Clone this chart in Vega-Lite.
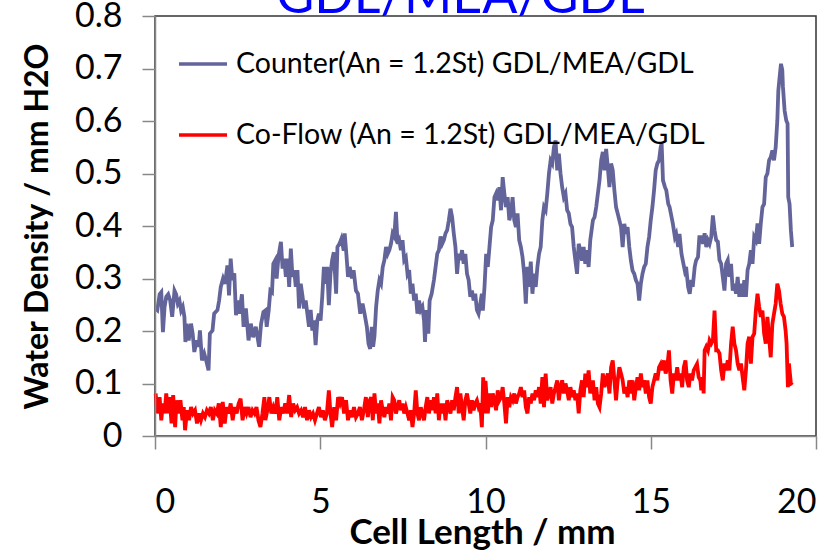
{
"$schema": "https://vega.github.io/schema/vega-lite/v6.json",
"width": 661, "height": 420,
"autosize": {"type": "none"},
"padding": {"left": 155, "top": 16, "right": 23, "bottom": 115},
"background": "white",
"title": {"text": "GDL/MEA/GDL", "color": "#0000FF", "fontSize": 52, "font": "Lato", "fontWeight": "normal", "anchor": "middle", "dx": -25, "offset": -66, "baseline": "alphabetic"},
"config": {"view": {"stroke": "#333333", "strokeWidth": 1.5}, "font": "Lato"},
"datasets": {
"counter": [
{"x":0.02,"y":0.243},{"x":0.07,"y":0.24},{"x":0.14,"y":0.27},{"x":0.19,"y":0.274},{"x":0.24,"y":0.198},{"x":0.29,"y":0.246},{"x":0.34,"y":0.265},{"x":0.4,"y":0.27},{"x":0.46,"y":0.258},{"x":0.52,"y":0.227},{"x":0.59,"y":0.277},{"x":0.64,"y":0.27},{"x":0.69,"y":0.252},{"x":0.74,"y":0.258},{"x":0.79,"y":0.239},{"x":0.84,"y":0.246},{"x":0.89,"y":0.227},{"x":0.92,"y":0.179},{"x":0.96,"y":0.214},{"x":1.02,"y":0.182},{"x":1.09,"y":0.214},{"x":1.14,"y":0.195},{"x":1.19,"y":0.16},{"x":1.26,"y":0.182},{"x":1.32,"y":0.17},{"x":1.36,"y":0.201},{"x":1.42,"y":0.144},{"x":1.49,"y":0.157},{"x":1.56,"y":0.141},{"x":1.62,"y":0.125},{"x":1.66,"y":0.195},{"x":1.74,"y":0.201},{"x":1.79,"y":0.233},{"x":1.89,"y":0.24},{"x":1.94,"y":0.258},{"x":1.99,"y":0.284},{"x":2.06,"y":0.3},{"x":2.12,"y":0.29},{"x":2.19,"y":0.325},{"x":2.24,"y":0.268},{"x":2.29,"y":0.338},{"x":2.34,"y":0.297},{"x":2.4,"y":0.31},{"x":2.45,"y":0.23},{"x":2.5,"y":0.258},{"x":2.55,"y":0.233},{"x":2.63,"y":0.27},{"x":2.68,"y":0.208},{"x":2.75,"y":0.243},{"x":2.83,"y":0.182},{"x":2.9,"y":0.214},{"x":2.97,"y":0.188},{"x":3.05,"y":0.208},{"x":3.15,"y":0.17},{"x":3.21,"y":0.214},{"x":3.28,"y":0.236},{"x":3.34,"y":0.239},{"x":3.38,"y":0.208},{"x":3.44,"y":0.239},{"x":3.49,"y":0.277},{"x":3.54,"y":0.274},{"x":3.58,"y":0.328},{"x":3.64,"y":0.335},{"x":3.68,"y":0.3},{"x":3.74,"y":0.344},{"x":3.81,"y":0.37},{"x":3.86,"y":0.319},{"x":3.91,"y":0.338},{"x":3.96,"y":0.303},{"x":4.01,"y":0.338},{"x":4.06,"y":0.284},{"x":4.11,"y":0.357},{"x":4.16,"y":0.303},{"x":4.21,"y":0.316},{"x":4.26,"y":0.284},{"x":4.31,"y":0.316},{"x":4.36,"y":0.243},{"x":4.41,"y":0.29},{"x":4.46,"y":0.268},{"x":4.51,"y":0.243},{"x":4.56,"y":0.258},{"x":4.61,"y":0.233},{"x":4.66,"y":0.208},{"x":4.71,"y":0.24},{"x":4.76,"y":0.201},{"x":4.81,"y":0.22},{"x":4.86,"y":0.173},{"x":4.91,"y":0.22},{"x":4.96,"y":0.233},{"x":5.01,"y":0.22},{"x":5.06,"y":0.265},{"x":5.11,"y":0.322},{"x":5.16,"y":0.29},{"x":5.21,"y":0.322},{"x":5.26,"y":0.249},{"x":5.31,"y":0.31},{"x":5.36,"y":0.335},{"x":5.41,"y":0.35},{"x":5.48,"y":0.271},{"x":5.52,"y":0.36},{"x":5.58,"y":0.366},{"x":5.64,"y":0.376},{"x":5.71,"y":0.353},{"x":5.74,"y":0.386},{"x":5.79,"y":0.347},{"x":5.84,"y":0.303},{"x":5.89,"y":0.322},{"x":5.96,"y":0.3},{"x":6.01,"y":0.316},{"x":6.08,"y":0.277},{"x":6.14,"y":0.271},{"x":6.21,"y":0.233},{"x":6.28,"y":0.252},{"x":6.34,"y":0.233},{"x":6.41,"y":0.208},{"x":6.46,"y":0.176},{"x":6.51,"y":0.166},{"x":6.56,"y":0.208},{"x":6.6,"y":0.17},{"x":6.64,"y":0.19},{"x":6.69,"y":0.246},{"x":6.74,"y":0.277},{"x":6.79,"y":0.297},{"x":6.84,"y":0.29},{"x":6.89,"y":0.322},{"x":6.94,"y":0.335},{"x":6.99,"y":0.36},{"x":7.04,"y":0.347},{"x":7.09,"y":0.354},{"x":7.14,"y":0.366},{"x":7.19,"y":0.386},{"x":7.24,"y":0.38},{"x":7.29,"y":0.427},{"x":7.34,"y":0.366},{"x":7.39,"y":0.373},{"x":7.44,"y":0.354},{"x":7.49,"y":0.373},{"x":7.54,"y":0.335},{"x":7.59,"y":0.34},{"x":7.64,"y":0.309},{"x":7.69,"y":0.316},{"x":7.74,"y":0.271},{"x":7.79,"y":0.29},{"x":7.84,"y":0.258},{"x":7.89,"y":0.271},{"x":7.94,"y":0.233},{"x":7.99,"y":0.258},{"x":8.04,"y":0.24},{"x":8.09,"y":0.246},{"x":8.14,"y":0.22},{"x":8.17,"y":0.179},{"x":8.21,"y":0.24},{"x":8.27,"y":0.195},{"x":8.31,"y":0.258},{"x":8.37,"y":0.271},{"x":8.44,"y":0.297},{"x":8.49,"y":0.322},{"x":8.54,"y":0.347},{"x":8.59,"y":0.354},{"x":8.64,"y":0.38},{"x":8.69,"y":0.366},{"x":8.74,"y":0.373},{"x":8.79,"y":0.386},{"x":8.84,"y":0.392},{"x":8.89,"y":0.411},{"x":8.94,"y":0.433},{"x":8.99,"y":0.417},{"x":9.04,"y":0.386},{"x":9.09,"y":0.36},{"x":9.14,"y":0.309},{"x":9.19,"y":0.347},{"x":9.24,"y":0.335},{"x":9.29,"y":0.354},{"x":9.34,"y":0.328},{"x":9.39,"y":0.347},{"x":9.44,"y":0.309},{"x":9.49,"y":0.297},{"x":9.54,"y":0.265},{"x":9.59,"y":0.277},{"x":9.64,"y":0.258},{"x":9.69,"y":0.271},{"x":9.74,"y":0.24},{"x":9.79,"y":0.233},{"x":9.84,"y":0.252},{"x":9.89,"y":0.271},{"x":9.92,"y":0.239},{"x":9.97,"y":0.284},{"x":10.02,"y":0.347},{"x":10.07,"y":0.322},{"x":10.12,"y":0.36},{"x":10.17,"y":0.398},{"x":10.22,"y":0.411},{"x":10.27,"y":0.455},{"x":10.32,"y":0.462},{"x":10.37,"y":0.449},{"x":10.42,"y":0.474},{"x":10.47,"y":0.43},{"x":10.52,"y":0.493},{"x":10.57,"y":0.462},{"x":10.62,"y":0.436},{"x":10.67,"y":0.455},{"x":10.72,"y":0.411},{"x":10.77,"y":0.424},{"x":10.82,"y":0.455},{"x":10.87,"y":0.411},{"x":10.92,"y":0.398},{"x":10.97,"y":0.424},{"x":11.02,"y":0.373},{"x":11.07,"y":0.36},{"x":11.12,"y":0.341},{"x":11.17,"y":0.309},{"x":11.22,"y":0.252},{"x":11.27,"y":0.322},{"x":11.32,"y":0.284},{"x":11.37,"y":0.332},{"x":11.42,"y":0.271},{"x":11.47,"y":0.309},{"x":11.52,"y":0.284},{"x":11.57,"y":0.322},{"x":11.62,"y":0.347},{"x":11.67,"y":0.36},{"x":11.72,"y":0.411},{"x":11.77,"y":0.436},{"x":11.82,"y":0.43},{"x":11.87,"y":0.462},{"x":11.92,"y":0.5},{"x":11.97,"y":0.525},{"x":12.02,"y":0.519},{"x":12.07,"y":0.55},{"x":12.12,"y":0.563},{"x":12.17,"y":0.506},{"x":12.22,"y":0.538},{"x":12.27,"y":0.5},{"x":12.32,"y":0.474},{"x":12.37,"y":0.455},{"x":12.42,"y":0.462},{"x":12.47,"y":0.43},{"x":12.52,"y":0.424},{"x":12.57,"y":0.404},{"x":12.62,"y":0.398},{"x":12.67,"y":0.36},{"x":12.72,"y":0.334},{"x":12.77,"y":0.309},{"x":12.82,"y":0.366},{"x":12.87,"y":0.354},{"x":12.92,"y":0.334},{"x":12.97,"y":0.36},{"x":13.02,"y":0.328},{"x":13.07,"y":0.354},{"x":13.12,"y":0.322},{"x":13.17,"y":0.373},{"x":13.25,"y":0.411},{"x":13.3,"y":0.417},{"x":13.35,"y":0.436},{"x":13.4,"y":0.462},{"x":13.45,"y":0.487},{"x":13.5,"y":0.525},{"x":13.55,"y":0.541},{"x":13.6,"y":0.506},{"x":13.65,"y":0.547},{"x":13.7,"y":0.512},{"x":13.75,"y":0.474},{"x":13.8,"y":0.519},{"x":13.85,"y":0.506},{"x":13.9,"y":0.468},{"x":13.95,"y":0.436},{"x":14.0,"y":0.424},{"x":14.05,"y":0.411},{"x":14.1,"y":0.398},{"x":14.15,"y":0.36},{"x":14.2,"y":0.404},{"x":14.25,"y":0.385},{"x":14.3,"y":0.398},{"x":14.35,"y":0.36},{"x":14.4,"y":0.334},{"x":14.45,"y":0.315},{"x":14.5,"y":0.309},{"x":14.55,"y":0.297},{"x":14.6,"y":0.29},{"x":14.65,"y":0.258},{"x":14.7,"y":0.29},{"x":14.75,"y":0.309},{"x":14.8,"y":0.322},{"x":14.85,"y":0.328},{"x":14.9,"y":0.36},{"x":14.95,"y":0.379},{"x":15.0,"y":0.411},{"x":15.05,"y":0.436},{"x":15.1,"y":0.468},{"x":15.15,"y":0.506},{"x":15.2,"y":0.519},{"x":15.25,"y":0.525},{"x":15.3,"y":0.55},{"x":15.33,"y":0.557},{"x":15.37,"y":0.487},{"x":15.43,"y":0.474},{"x":15.47,"y":0.468},{"x":15.53,"y":0.442},{"x":15.57,"y":0.436},{"x":15.63,"y":0.417},{"x":15.67,"y":0.404},{"x":15.73,"y":0.379},{"x":15.77,"y":0.385},{"x":15.83,"y":0.36},{"x":15.87,"y":0.385},{"x":15.93,"y":0.347},{"x":15.97,"y":0.334},{"x":16.03,"y":0.315},{"x":16.07,"y":0.322},{"x":16.13,"y":0.284},{"x":16.18,"y":0.271},{"x":16.23,"y":0.297},{"x":16.27,"y":0.284},{"x":16.33,"y":0.322},{"x":16.37,"y":0.334},{"x":16.43,"y":0.341},{"x":16.47,"y":0.379},{"x":16.53,"y":0.379},{"x":16.58,"y":0.366},{"x":16.63,"y":0.386},{"x":16.68,"y":0.36},{"x":16.73,"y":0.373},{"x":16.78,"y":0.366},{"x":16.83,"y":0.379},{"x":16.88,"y":0.42},{"x":16.93,"y":0.392},{"x":16.98,"y":0.373},{"x":17.03,"y":0.37},{"x":17.08,"y":0.335},{"x":17.13,"y":0.328},{"x":17.18,"y":0.303},{"x":17.23,"y":0.277},{"x":17.28,"y":0.328},{"x":17.33,"y":0.335},{"x":17.38,"y":0.303},{"x":17.43,"y":0.328},{"x":17.48,"y":0.277},{"x":17.53,"y":0.29},{"x":17.58,"y":0.271},{"x":17.63,"y":0.303},{"x":17.68,"y":0.265},{"x":17.73,"y":0.29},{"x":17.78,"y":0.265},{"x":17.83,"y":0.297},{"x":17.88,"y":0.265},{"x":17.93,"y":0.316},{"x":17.98,"y":0.328},{"x":18.03,"y":0.354},{"x":18.08,"y":0.328},{"x":18.13,"y":0.379},{"x":18.18,"y":0.373},{"x":18.23,"y":0.405},{"x":18.28,"y":0.366},{"x":18.33,"y":0.405},{"x":18.38,"y":0.436},{"x":18.43,"y":0.442},{"x":18.48,"y":0.493},{"x":18.53,"y":0.5},{"x":18.58,"y":0.525},{"x":18.63,"y":0.531},{"x":18.68,"y":0.544},{"x":18.73,"y":0.525},{"x":18.78,"y":0.55},{"x":18.83,"y":0.601},{"x":18.86,"y":0.658},{"x":18.9,"y":0.684},{"x":18.94,"y":0.709},{"x":18.98,"y":0.697},{"x":19.0,"y":0.665},{"x":19.05,"y":0.62},{"x":19.1,"y":0.601},{"x":19.14,"y":0.595},{"x":19.16,"y":0.455},{"x":19.2,"y":0.442},{"x":19.24,"y":0.392},{"x":19.28,"y":0.36}
],
"coflow": [
{"x":0.02,"y":0.081},{"x":0.07,"y":0.043},{"x":0.14,"y":0.074},{"x":0.19,"y":0.03},{"x":0.24,"y":0.062},{"x":0.29,"y":0.043},{"x":0.34,"y":0.081},{"x":0.4,"y":0.043},{"x":0.44,"y":0.074},{"x":0.5,"y":0.024},{"x":0.55,"y":0.078},{"x":0.61,"y":0.017},{"x":0.65,"y":0.068},{"x":0.71,"y":0.043},{"x":0.77,"y":0.068},{"x":0.83,"y":0.03},{"x":0.87,"y":0.055},{"x":0.91,"y":0.011},{"x":0.97,"y":0.049},{"x":1.03,"y":0.03},{"x":1.09,"y":0.055},{"x":1.15,"y":0.043},{"x":1.21,"y":0.049},{"x":1.27,"y":0.024},{"x":1.33,"y":0.043},{"x":1.39,"y":0.03},{"x":1.45,"y":0.043},{"x":1.51,"y":0.036},{"x":1.57,"y":0.049},{"x":1.63,"y":0.043},{"x":1.69,"y":0.055},{"x":1.75,"y":0.03},{"x":1.81,"y":0.049},{"x":1.87,"y":0.043},{"x":1.93,"y":0.062},{"x":1.99,"y":0.017},{"x":2.05,"y":0.065},{"x":2.11,"y":0.024},{"x":2.17,"y":0.055},{"x":2.23,"y":0.043},{"x":2.29,"y":0.062},{"x":2.35,"y":0.03},{"x":2.41,"y":0.055},{"x":2.47,"y":0.043},{"x":2.53,"y":0.062},{"x":2.59,"y":0.071},{"x":2.65,"y":0.03},{"x":2.71,"y":0.055},{"x":2.77,"y":0.043},{"x":2.83,"y":0.055},{"x":2.89,"y":0.036},{"x":2.95,"y":0.049},{"x":3.01,"y":0.043},{"x":3.07,"y":0.055},{"x":3.13,"y":0.03},{"x":3.19,"y":0.017},{"x":3.25,"y":0.043},{"x":3.31,"y":0.074},{"x":3.34,"y":0.03},{"x":3.4,"y":0.049},{"x":3.46,"y":0.074},{"x":3.52,"y":0.043},{"x":3.58,"y":0.055},{"x":3.64,"y":0.043},{"x":3.7,"y":0.074},{"x":3.76,"y":0.03},{"x":3.82,"y":0.055},{"x":3.88,"y":0.043},{"x":3.94,"y":0.062},{"x":4.0,"y":0.043},{"x":4.06,"y":0.078},{"x":4.12,"y":0.036},{"x":4.18,"y":0.062},{"x":4.24,"y":0.049},{"x":4.3,"y":0.055},{"x":4.36,"y":0.043},{"x":4.42,"y":0.049},{"x":4.48,"y":0.036},{"x":4.54,"y":0.055},{"x":4.6,"y":0.03},{"x":4.66,"y":0.049},{"x":4.72,"y":0.036},{"x":4.78,"y":0.043},{"x":4.84,"y":0.03},{"x":4.9,"y":0.043},{"x":4.96,"y":0.055},{"x":5.02,"y":0.036},{"x":5.08,"y":0.049},{"x":5.14,"y":0.03},{"x":5.2,"y":0.043},{"x":5.26,"y":0.087},{"x":5.31,"y":0.043},{"x":5.36,"y":0.017},{"x":5.42,"y":0.055},{"x":5.48,"y":0.03},{"x":5.54,"y":0.074},{"x":5.6,"y":0.062},{"x":5.66,"y":0.074},{"x":5.72,"y":0.043},{"x":5.78,"y":0.068},{"x":5.84,"y":0.03},{"x":5.9,"y":0.049},{"x":5.96,"y":0.036},{"x":6.02,"y":0.055},{"x":6.08,"y":0.036},{"x":6.14,"y":0.043},{"x":6.2,"y":0.055},{"x":6.26,"y":0.03},{"x":6.32,"y":0.049},{"x":6.38,"y":0.074},{"x":6.44,"y":0.036},{"x":6.5,"y":0.068},{"x":6.54,"y":0.074},{"x":6.59,"y":0.03},{"x":6.64,"y":0.081},{"x":6.69,"y":0.043},{"x":6.74,"y":0.062},{"x":6.79,"y":0.024},{"x":6.84,"y":0.068},{"x":6.89,"y":0.049},{"x":6.94,"y":0.036},{"x":6.99,"y":0.055},{"x":7.04,"y":0.043},{"x":7.09,"y":0.062},{"x":7.14,"y":0.03},{"x":7.19,"y":0.074},{"x":7.24,"y":0.068},{"x":7.29,"y":0.043},{"x":7.34,"y":0.055},{"x":7.39,"y":0.068},{"x":7.44,"y":0.049},{"x":7.49,"y":0.062},{"x":7.54,"y":0.043},{"x":7.59,"y":0.055},{"x":7.64,"y":0.043},{"x":7.69,"y":0.03},{"x":7.74,"y":0.049},{"x":7.79,"y":0.017},{"x":7.84,"y":0.043},{"x":7.89,"y":0.087},{"x":7.94,"y":0.043},{"x":7.99,"y":0.03},{"x":8.04,"y":0.055},{"x":8.09,"y":0.043},{"x":8.14,"y":0.03},{"x":8.19,"y":0.055},{"x":8.24,"y":0.074},{"x":8.29,"y":0.043},{"x":8.34,"y":0.068},{"x":8.39,"y":0.049},{"x":8.44,"y":0.074},{"x":8.49,"y":0.043},{"x":8.54,"y":0.081},{"x":8.59,"y":0.03},{"x":8.64,"y":0.062},{"x":8.69,"y":0.043},{"x":8.74,"y":0.062},{"x":8.79,"y":0.03},{"x":8.84,"y":0.068},{"x":8.89,"y":0.055},{"x":8.94,"y":0.043},{"x":8.99,"y":0.068},{"x":9.04,"y":0.049},{"x":9.09,"y":0.074},{"x":9.14,"y":0.093},{"x":9.19,"y":0.043},{"x":9.24,"y":0.081},{"x":9.29,"y":0.055},{"x":9.34,"y":0.03},{"x":9.39,"y":0.068},{"x":9.44,"y":0.081},{"x":9.49,"y":0.062},{"x":9.54,"y":0.043},{"x":9.59,"y":0.068},{"x":9.64,"y":0.049},{"x":9.69,"y":0.062},{"x":9.74,"y":0.068},{"x":9.79,"y":0.055},{"x":9.84,"y":0.062},{"x":9.89,"y":0.017},{"x":9.93,"y":0.112},{"x":9.97,"y":0.043},{"x":10.0,"y":0.105},{"x":10.04,"y":0.068},{"x":10.07,"y":0.043},{"x":10.12,"y":0.081},{"x":10.17,"y":0.055},{"x":10.22,"y":0.081},{"x":10.27,"y":0.068},{"x":10.32,"y":0.049},{"x":10.37,"y":0.087},{"x":10.42,"y":0.068},{"x":10.47,"y":0.074},{"x":10.52,"y":0.093},{"x":10.57,"y":0.062},{"x":10.62,"y":0.024},{"x":10.67,"y":0.074},{"x":10.72,"y":0.055},{"x":10.77,"y":0.074},{"x":10.82,"y":0.068},{"x":10.87,"y":0.081},{"x":10.92,"y":0.062},{"x":10.97,"y":0.074},{"x":11.02,"y":0.081},{"x":11.07,"y":0.093},{"x":11.12,"y":0.074},{"x":11.17,"y":0.087},{"x":11.22,"y":0.055},{"x":11.27,"y":0.043},{"x":11.32,"y":0.074},{"x":11.37,"y":0.062},{"x":11.42,"y":0.081},{"x":11.47,"y":0.068},{"x":11.52,"y":0.087},{"x":11.57,"y":0.074},{"x":11.62,"y":0.093},{"x":11.67,"y":0.062},{"x":11.72,"y":0.112},{"x":11.77,"y":0.055},{"x":11.82,"y":0.119},{"x":11.87,"y":0.068},{"x":11.92,"y":0.081},{"x":11.97,"y":0.093},{"x":12.02,"y":0.062},{"x":12.07,"y":0.081},{"x":12.12,"y":0.093},{"x":12.17,"y":0.106},{"x":12.22,"y":0.068},{"x":12.27,"y":0.093},{"x":12.32,"y":0.106},{"x":12.37,"y":0.081},{"x":12.42,"y":0.1},{"x":12.47,"y":0.087},{"x":12.52,"y":0.068},{"x":12.57,"y":0.093},{"x":12.62,"y":0.074},{"x":12.67,"y":0.087},{"x":12.72,"y":0.068},{"x":12.77,"y":0.081},{"x":12.82,"y":0.043},{"x":12.87,"y":0.087},{"x":12.92,"y":0.106},{"x":12.97,"y":0.074},{"x":13.02,"y":0.119},{"x":13.07,"y":0.093},{"x":13.12,"y":0.125},{"x":13.17,"y":0.081},{"x":13.2,"y":0.093},{"x":13.25,"y":0.106},{"x":13.3,"y":0.068},{"x":13.35,"y":0.093},{"x":13.4,"y":0.062},{"x":13.45,"y":0.055},{"x":13.5,"y":0.081},{"x":13.55,"y":0.119},{"x":13.6,"y":0.093},{"x":13.65,"y":0.106},{"x":13.7,"y":0.119},{"x":13.75,"y":0.081},{"x":13.8,"y":0.131},{"x":13.85,"y":0.144},{"x":13.9,"y":0.106},{"x":13.95,"y":0.068},{"x":14.0,"y":0.106},{"x":14.05,"y":0.131},{"x":14.1,"y":0.119},{"x":14.15,"y":0.106},{"x":14.2,"y":0.081},{"x":14.25,"y":0.093},{"x":14.3,"y":0.074},{"x":14.35,"y":0.106},{"x":14.4,"y":0.081},{"x":14.45,"y":0.106},{"x":14.5,"y":0.068},{"x":14.55,"y":0.093},{"x":14.6,"y":0.112},{"x":14.65,"y":0.087},{"x":14.7,"y":0.119},{"x":14.75,"y":0.093},{"x":14.8,"y":0.106},{"x":14.85,"y":0.081},{"x":14.9,"y":0.106},{"x":14.95,"y":0.074},{"x":15.0,"y":0.062},{"x":15.05,"y":0.093},{"x":15.1,"y":0.106},{"x":15.15,"y":0.119},{"x":15.2,"y":0.106},{"x":15.25,"y":0.131},{"x":15.3,"y":0.137},{"x":15.35,"y":0.125},{"x":15.4,"y":0.144},{"x":15.45,"y":0.119},{"x":15.5,"y":0.131},{"x":15.55,"y":0.163},{"x":15.6,"y":0.106},{"x":15.65,"y":0.081},{"x":15.7,"y":0.119},{"x":15.75,"y":0.106},{"x":15.8,"y":0.131},{"x":15.85,"y":0.106},{"x":15.9,"y":0.119},{"x":15.95,"y":0.093},{"x":16.0,"y":0.131},{"x":16.05,"y":0.144},{"x":16.1,"y":0.106},{"x":16.15,"y":0.093},{"x":16.2,"y":0.119},{"x":16.25,"y":0.106},{"x":16.3,"y":0.125},{"x":16.35,"y":0.131},{"x":16.4,"y":0.137},{"x":16.45,"y":0.112},{"x":16.5,"y":0.106},{"x":16.53,"y":0.087},{"x":16.58,"y":0.112},{"x":16.6,"y":0.081},{"x":16.63,"y":0.163},{"x":16.68,"y":0.17},{"x":16.73,"y":0.163},{"x":16.78,"y":0.182},{"x":16.83,"y":0.176},{"x":16.88,"y":0.182},{"x":16.93,"y":0.239},{"x":16.98,"y":0.163},{"x":17.03,"y":0.163},{"x":17.08,"y":0.157},{"x":17.13,"y":0.125},{"x":17.18,"y":0.106},{"x":17.23,"y":0.138},{"x":17.28,"y":0.125},{"x":17.33,"y":0.144},{"x":17.38,"y":0.125},{"x":17.43,"y":0.176},{"x":17.48,"y":0.208},{"x":17.53,"y":0.176},{"x":17.58,"y":0.163},{"x":17.63,"y":0.138},{"x":17.68,"y":0.125},{"x":17.73,"y":0.138},{"x":17.78,"y":0.112},{"x":17.83,"y":0.087},{"x":17.88,"y":0.125},{"x":17.93,"y":0.176},{"x":17.98,"y":0.189},{"x":18.03,"y":0.138},{"x":18.08,"y":0.189},{"x":18.13,"y":0.195},{"x":18.18,"y":0.239},{"x":18.23,"y":0.271},{"x":18.28,"y":0.246},{"x":18.33,"y":0.227},{"x":18.38,"y":0.239},{"x":18.43,"y":0.195},{"x":18.48,"y":0.176},{"x":18.53,"y":0.227},{"x":18.58,"y":0.189},{"x":18.63,"y":0.15},{"x":18.68,"y":0.214},{"x":18.73,"y":0.233},{"x":18.78,"y":0.252},{"x":18.83,"y":0.29},{"x":18.88,"y":0.277},{"x":18.93,"y":0.252},{"x":18.98,"y":0.233},{"x":19.03,"y":0.227},{"x":19.08,"y":0.201},{"x":19.11,"y":0.176},{"x":19.15,"y":0.093},{"x":19.18,"y":0.138},{"x":19.24,"y":0.1},{"x":19.28,"y":0.097}
]
},
"encoding": {
"x": {"field": "x", "type": "quantitative", "scale": {"domain": [0, 20], "nice": false},
 "axis": {"values": [0, 5, 10, 15, 20], "title": "Cell Length / mm", "grid": false, "domainColor": "#888888", "domainWidth": 1.5, "tickColor": "#888888", "tickWidth": 1.5, "tickSize": 13, "labelFontSize": 34, "labelPadding": 36, "labelColor": "black", "labelFont": "Lato", "titleFont": "Lato", "titleFontSize": 35, "titleFontWeight": "bold", "titleColor": "black", "titleBaseline": "alphabetic", "titleY": 107, "titleX": 327, "zindex": 1}},
"y": {"field": "y", "type": "quantitative", "scale": {"domain": [0, 0.8], "nice": false},
 "axis": {"values": [0, 0.1, 0.2, 0.3, 0.4, 0.5, 0.6, 0.7, 0.8], "labelExpr": "datum.value == 0 ? '0' : format(datum.value, '.1f')", "title": "Water Density / mm H2O", "grid": false, "domainColor": "#888888", "domainWidth": 1.5, "tickColor": "#888888", "tickWidth": 1.5, "tickSize": 13, "labelFontSize": 34, "labelPadding": 20, "labelColor": "black", "labelFont": "Lato", "titleFont": "Lato", "titleFontSize": 32, "titleFontWeight": "bold", "titleColor": "black", "titlePadding": 20, "zindex": 1}}
},
"layer": [
{"data": {"name": "counter"}, "mark": {"type": "line", "strokeWidth": 3.8},
 "encoding": {"color": {"datum": "Counter(An = 1.2St) GDL/MEA/GDL", "type": "nominal",
  "scale": {"domain": ["Counter(An = 1.2St) GDL/MEA/GDL", "Co-Flow (An = 1.2St) GDL/MEA/GDL"], "range": ["#63659a", "#ff0000"]},
  "legend": {"orient": "none", "legendX": 22, "legendY": 22, "title": null, "symbolType": "stroke", "symbolSize": 2304, "symbolStrokeWidth": 3.5, "labelFontSize": 28.5, "labelFont": "Lato", "labelColor": "black", "labelOffset": 7, "rowPadding": 30, "labelLimit": 700}}}},
{"data": {"name": "coflow"}, "mark": {"type": "line", "strokeWidth": 3.8},
 "encoding": {"color": {"datum": "Co-Flow (An = 1.2St) GDL/MEA/GDL", "type": "nominal"}}}
]
}
